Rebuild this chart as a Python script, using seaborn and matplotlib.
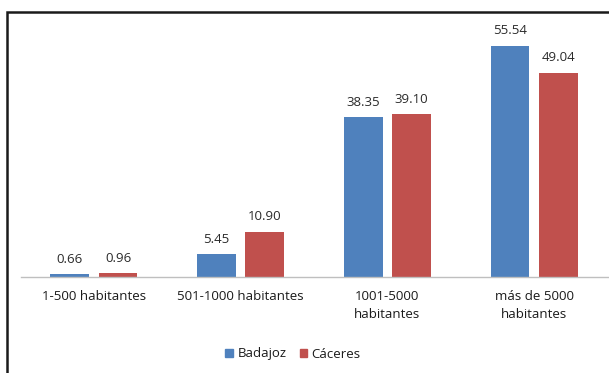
import matplotlib
matplotlib.use("Agg")
import matplotlib.pyplot as plt
import seaborn as sns
import pandas as pd
from matplotlib.patches import Rectangle

categories = ["1-500 habitantes", "501-1000 habitantes", "1001-5000\nhabitantes", "más de 5000\nhabitantes"]
badajoz = [0.66, 5.45, 38.35, 55.54]
caceres = [0.96, 10.90, 39.10, 49.04]
series = ["Badajoz", "Cáceres"]
colors = ["#4F81BD", "#C0504D"]

df = pd.DataFrame({
    "cat": categories * 2,
    "val": badajoz + caceres,
    "prov": [series[0]] * 4 + [series[1]] * 4,
})

sns.set_style("white")
plt.rcParams["font.family"] = ["Open Sans", "DejaVu Sans"]

W, H = 609, 373
fig = plt.figure(figsize=(W / 100, H / 100), dpi=100)
ax = fig.add_axes([20.5 / W, 96 / H, 587 / W, 250 / H])

sns.barplot(data=df, x="cat", y="val", hue="prov", hue_order=series,
            palette=colors, width=0.66, gap=0.2, saturation=1, ax=ax,
            legend=False, order=categories, linewidth=0)

ax.set_ylim(0, 60)
ax.set_xlim(-0.5, 3.5)
ax.set_xlabel("")
ax.set_ylabel("")
ax.set_yticks([])
for s in ["top", "right", "left"]:
    ax.spines[s].set_visible(False)
ax.spines["bottom"].set_color("#BFBFBF")
ax.spines["bottom"].set_linewidth(1)
ax.tick_params(axis="x", length=0, pad=9, labelsize=9.5, colors="#1a1a1a")
for lbl in ax.get_xticklabels():
    lbl.set_linespacing(1.55)

for cont in ax.containers:
    ax.bar_label(cont, fmt="%.2f", padding=6, fontsize=9.5, color="#2a2a2a")

handles = [Rectangle((0, 0), 1, 1, color=c) for c in colors]
fig.legend(handles, series, loc="center", bbox_to_anchor=(293 / W, 1 - 354 / H),
           ncol=2, frameon=False, handlelength=0.6, handleheight=0.6,
           handletextpad=0.3, columnspacing=1.0, fontsize=9.5,
           labelcolor="#1a1a1a")

# outer chart frame
fig.patches.append(Rectangle((6.5 / W, -0.1), 1.2, (H - 11.5) / H + 0.1,
                             transform=fig.transFigure, fill=False,
                             edgecolor="#1a1a1a", linewidth=1.8))

fig.savefig("out.png", dpi=100)
